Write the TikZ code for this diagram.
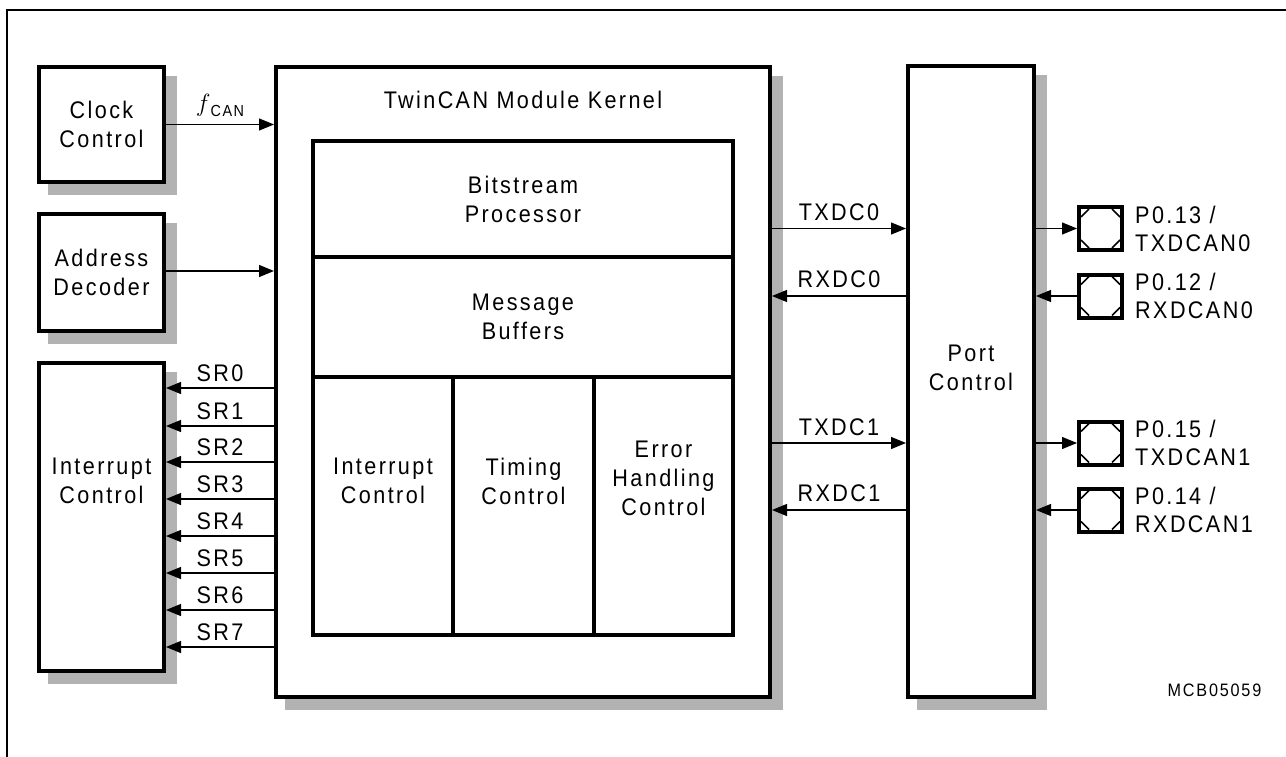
\documentclass[tikz,border=0pt]{standalone}
\usepackage{fontspec}
\setmainfont{Liberation Sans}[FakeStretch=0.9,LetterSpace=10]
\usetikzlibrary{arrows.meta,shadows}
\definecolor{shgray}{gray}{0.7}
\begin{document}
\begin{tikzpicture}[x=1pt,y=-1pt,
  txt/.style={font=\fontsize{24}{29}\selectfont, align=center, inner sep=0pt},
  box/.style={draw, line width=4pt, fill=white, inner sep=0pt, align=center, font=\fontsize{24}{29}\selectfont},
  shbox/.style={box, drop shadow={shadow xshift=11pt, shadow yshift=-11pt, fill=shgray, draw=shgray, line width=4pt, opacity=1}},
  pad/.style={draw, line width=4pt, fill=white, minimum width=43pt, minimum height=43pt, inner sep=0pt},
  diag/.style={line width=1.6pt},
  arr/.style={-{Triangle[length=15pt,width=12pt]}, line width=1.2pt},
  lbl/.style={font=\fontsize{24}{29}\selectfont, inner sep=0pt},
  padlbl/.style={font=\fontsize{24}{28}\selectfont, inner sep=0pt, align=left, anchor=west}]
\useasboundingbox (0,0) rectangle (1286,757);
% frame
\draw[line width=2pt] (7,770) -- (7,10) -- (1300,10);

% left blocks
\node[shbox, minimum width=125pt, minimum height=115pt] (clk) at (101.5,124.5) {Clock\\Control};
\node[shbox, minimum width=125pt, minimum height=117pt] (addr) at (101.5,272.5) {Address\\Decoder};
\node[shbox, minimum width=125pt, minimum height=308pt] (intc) at (101.5,517) {};
\node[txt] (intct) at (101.5,481) {Interrupt\\Control};

% kernel
\node[shbox, minimum width=494pt, minimum height=630pt] (kern) at (523,382) {};
\node[txt] (kernt) at (523,100) {TwinCAN Module Kernel};
\node[box, minimum width=420pt, minimum height=116pt] (bsp) at (523,199) {Bitstream\\Processor};
\node[box, minimum width=420pt, minimum height=120pt] (msg) at (523,317) {Message\\Buffers};
\node[box, minimum width=140pt, minimum height=258pt] (ic) at (383,506) {};
\node[box, minimum width=141pt, minimum height=258pt] (tc) at (523.5,506) {};
\node[box, minimum width=139pt, minimum height=258pt] (ec) at (663.5,506) {};
\node[txt] (ict) at (383,481) {Interrupt\\Control};
\node[txt] (tct) at (523.5,481) {Timing\\Control};
\node[txt] (ect) at (663.5,478) {Error\\Handling\\Control};

% port control
\node[shbox, minimum width=126pt, minimum height=631pt] (port) at (971,381.5) {};
\node[txt] (portt) at (971,368) {Port\\Control};

% pads
\foreach \n/\y in {p1/228.5, p2/296, p3/443, p4/510}{
  \node[pad] (\n) at (1100.5,\y) {};
  \draw[diag] ([shift={(-19.5,-11.5)}]\n.center) -- ([shift={(-11.5,-19.5)}]\n.center);
  \draw[diag] ([shift={(19.5,-11.5)}]\n.center) -- ([shift={(11.5,-19.5)}]\n.center);
  \draw[diag] ([shift={(-19.5,11.5)}]\n.center) -- ([shift={(-11.5,19.5)}]\n.center);
  \draw[diag] ([shift={(19.5,11.5)}]\n.center) -- ([shift={(11.5,19.5)}]\n.center);
}
\node[padlbl] (l1) at (1135,229) {P0.13 /\\TXDCAN0};
\node[padlbl] (l2) at (1135,296) {P0.12 /\\RXDCAN0};
\node[padlbl] (l3) at (1135,443) {P0.15 /\\TXDCAN1};
\node[padlbl] (l4) at (1135,510) {P0.14 /\\RXDCAN1};

% clock and address arrows
\draw[arr] (clk.east) -- (kern.west |- clk.east)
  node[midway, yshift=19pt, inner sep=0pt] {\fontsize{27}{27}\selectfont$f$\raisebox{-5pt}{\fontsize{16}{16}\selectfont CAN}};
\coordinate (ya) at (0,271);
\draw[arr] (addr.east |- ya) -- (kern.west |- ya);

% SR arrows
\foreach \i/\y in {0/388,1/426,2/462,3/499,4/536,5/573,6/610,7/647}{
  \coordinate (sr\i) at (0,\y);
  \draw[arr] (kern.west |- sr\i) -- (intc.east |- sr\i) node[lbl, midway, yshift=15pt] {SR\i};
}

% kernel <-> port
\draw[arr] (kern.east |- p1) -- (port.west |- p1) node[lbl, midway, yshift=16pt] {TXDC0};
\draw[arr] (port.west |- p2) -- (kern.east |- p2) node[lbl, midway, yshift=17pt] {RXDC0};
\draw[arr] (kern.east |- p3) -- (port.west |- p3) node[lbl, midway, yshift=16pt] {TXDC1};
\draw[arr] (port.west |- p4) -- (kern.east |- p4) node[lbl, midway, yshift=17pt] {RXDC1};

% port <-> pads
\draw[arr] (port.east |- p1) -- (p1.west);
\draw[arr] (p2.west) -- (port.east |- p2);
\draw[arr] (port.east |- p3) -- (p3.west);
\draw[arr] (p4.west) -- (port.east |- p4);

\node[font=\fontsize{18}{18}\selectfont, inner sep=0pt] (mcb) at (1214.5,690) {MCB05059};
\end{tikzpicture}
\end{document}
